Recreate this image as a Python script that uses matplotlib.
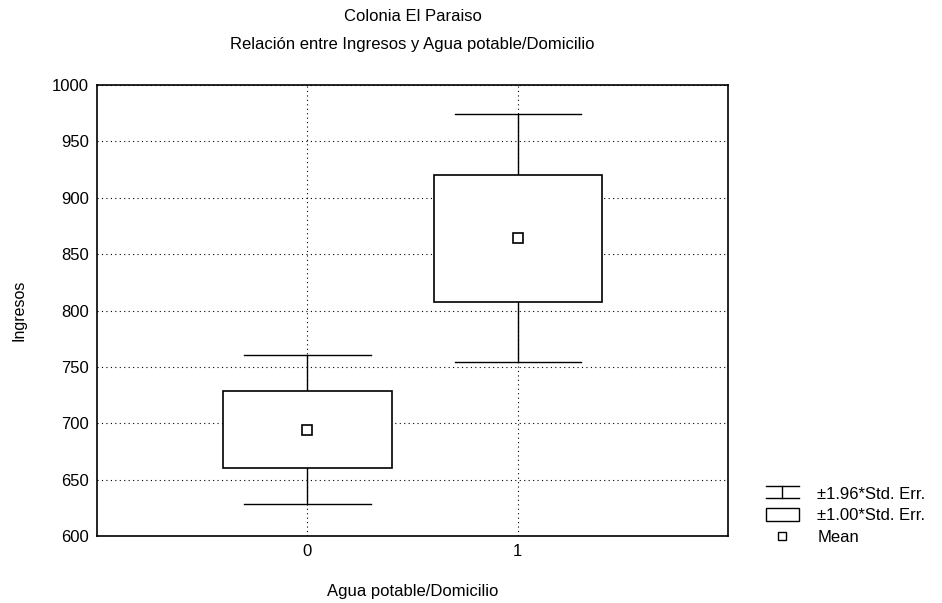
import matplotlib
matplotlib.use("Agg")
import matplotlib.pyplot as plt
from matplotlib.lines import Line2D
from matplotlib.patches import Rectangle
from matplotlib.legend_handler import HandlerBase

plt.rcParams['font.family'] = ['Liberation Sans', 'DejaVu Sans']

# values
groups = ['0', '1']
means = [694.5, 864]
box_lo = [660.5, 808]      # mean - 1.00*SE
box_hi = [728.5, 920]      # mean + 1.00*SE
whisk_lo = [628, 754]      # mean - 1.96*SE
whisk_hi = [761, 974]      # mean + 1.96*SE
yticks = [600, 650, 700, 750, 800, 850, 900, 950, 1000]


class WhiskerHandler(HandlerBase):
    def create_artists(self, legend, orig, xd, yd, w, h, fontsize, trans):
        cx = xd + w / 2
        top = Line2D([xd, xd + w], [yd + h, yd + h], color='black', lw=1, transform=trans)
        bot = Line2D([xd, xd + w], [yd, yd], color='black', lw=1, transform=trans)
        stem = Line2D([cx, cx], [yd, yd + h], color='black', lw=1, transform=trans)
        return [top, bot, stem]


fig = plt.figure(figsize=(9.42, 6.03), dpi=100)
ax = fig.add_axes([0.103, 0.111, 0.670, 0.748])

box_w = 0.8
cap_w = 0.6
for i in range(len(groups)):
    ax.plot([i, i], [whisk_lo[i], box_lo[i]], color='black', lw=1, zorder=3)
    ax.plot([i, i], [box_hi[i], whisk_hi[i]], color='black', lw=1, zorder=3)
    ax.plot([i - cap_w / 2, i + cap_w / 2], [whisk_lo[i], whisk_lo[i]], color='black', lw=1, zorder=3)
    ax.plot([i - cap_w / 2, i + cap_w / 2], [whisk_hi[i], whisk_hi[i]], color='black', lw=1, zorder=3)
    ax.add_patch(Rectangle((i - box_w / 2, box_lo[i]), box_w, box_hi[i] - box_lo[i],
                           facecolor='white', edgecolor='black', lw=1.2, zorder=3))
    ax.plot(i, means[i], marker='s', ms=6.5, mfc='white', mec='black', mew=1.2, zorder=4)

ax.set_xlim(-1, 2)
ax.set_ylim(600, 1000)
ax.set_xticks(range(len(groups)))
ax.set_xticklabels(groups)
ax.set_yticks(yticks)
ax.tick_params(length=0, labelsize=12, pad=6)
ax.grid(True, linestyle=(0, (1, 3)), color='black', lw=0.8, zorder=1)
for s in ax.spines.values():
    s.set_linewidth(1.2)

ax.set_xlabel('Agua potable/Domicilio', fontsize=12, labelpad=18)
ax.set_ylabel('Ingresos', fontsize=11.5, labelpad=18)
fig.text(0.438, 0.973, 'Colonia El Paraiso', ha='center', va='center', fontsize=12)
fig.text(0.438, 0.927, 'Relación entre Ingresos y Agua potable/Domicilio', ha='center', va='center', fontsize=12)

h_whisk = object()
h_box = Rectangle((0, 0), 1, 1, facecolor='white', edgecolor='black', lw=1)
h_mean = Line2D([], [], marker='s', ms=5.5, mfc='white', mec='black', mew=1, ls='none')
fig.legend([h_whisk, h_box, h_mean], ['±1.96*Std. Err.', '±1.00*Std. Err.', 'Mean'],
           handler_map={h_whisk: WhiskerHandler()},
           loc='upper left', bbox_to_anchor=(0.797, 0.218), frameon=False,
           fontsize=12, handlelength=2.0, handleheight=0.75, labelspacing=0.4, handletextpad=1.1)

fig.savefig('out.png', dpi=100)
